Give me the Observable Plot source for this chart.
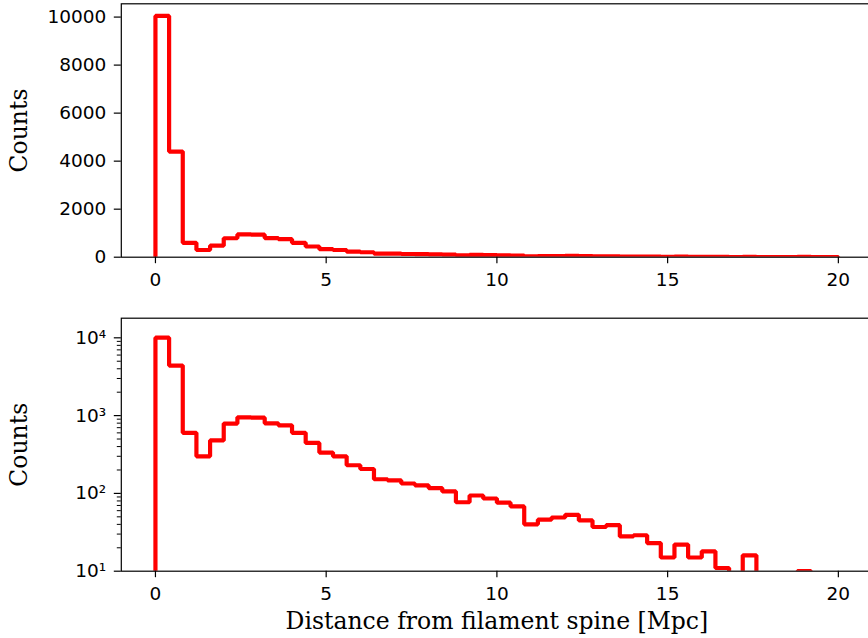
<!DOCTYPE html>
<html><head><meta charset="utf-8">
<script src="https://cdn.jsdelivr.net/npm/d3@7"></script>
<script src="https://cdn.jsdelivr.net/npm/@observablehq/plot@0.6"></script>
<style>
html,body{margin:0;padding:0;background:#fff;overflow:hidden;}
#chart{width:868px;height:638px;overflow:hidden;position:relative;background:#fff;}
#chart svg{display:block;max-width:none !important;}
</style></head><body><div id="chart"></div>
<script>
// Histogram: 50 bins of width 0.4 Mpc from 0 to 20
const binLo = 0, binHi = 20, binCount = 50;
const counts = [
  10050, 4400, 600, 300, 480, 790, 950, 940, 795, 750,
  600, 445, 335, 300, 230, 206, 152, 147, 134, 127,
  117, 106, 77, 94, 86, 76, 68, 40, 46, 49,
  53, 45, 37, 39, 28, 29, 23, 15, 22, 15,
  18, 11, 6, 16, 7, 5, 4, 10, 3, 4
];
const xTicks = [0, 5, 10, 15, 20];
const yTicksLinear = [0, 2000, 4000, 6000, 8000, 10000];
const yTicksLog = [10, 100, 1000, 10000];
const yTickLabelsLog = ["10¹", "10²", "10³", "10⁴"];
const yMinorLog = [20,30,40,50,60,70,80,90,200,300,400,500,600,700,800,900,2000,3000,4000,5000,6000,7000,8000,9000];
const xLabel = "Distance from filament spine [Mpc]";
const yLabel = "Counts";

const edges = d3.range(binCount + 1).map(i => binLo + (binHi - binLo) * i / binCount);
function steps(base) {
  const pts = [{x: edges[0], y: base}];
  counts.forEach((c, i) => pts.push({x: edges[i], y: c}));
  pts.push({x: edges[binCount], y: counts[binCount - 1]});
  pts.push({x: edges[binCount], y: base});
  return pts;
}

const W = 872, ML = 120.8, MR = 0;
const tickFont = "DejaVu Sans, sans-serif";
const labelFont = "DejaVu Serif, serif";
const common = {
  width: W, marginLeft: ML, marginRight: MR,
  style: {fontFamily: tickFont, fontSize: "18.5px", color: "#000", background: "#fff", overflow: "visible", maxWidth: "none"},
  x: {domain: [-1, 21]}
};
const lineOpts = {x: "x", y: "y", curve: "step-after", stroke: "#ff0000", strokeWidth: 4.2, strokeLinejoin: "miter", clip: true};
const yLabelOpts = {text: d => d, frameAnchor: "left", textAnchor: "middle", lineAnchor: "middle", rotate: -90, dx: -101.8, fontFamily: labelFont, fontSize: 23.5, fill: "#000"};

const topPlot = Plot.plot({
  ...common,
  height: 290, marginTop: 3.3, marginBottom: 33.3,
  y: {domain: [0, 10553]},
  marks: [
    Plot.line(steps(0), lineOpts),
    Plot.frame({stroke: "#000", strokeWidth: 1.2}),
    Plot.axisX({ticks: xTicks, tickSize: 6.5, tickPadding: 9, strokeWidth: 1.2, label: null, fontSize: 18.5}),
    Plot.axisY({ticks: yTicksLinear, tickFormat: d3.format("d"), tickSize: 7, tickPadding: 8, strokeWidth: 1.2, label: null, fontSize: 18.5}),
    Plot.text([yLabel], yLabelOpts)
  ]
});

const botPlot = Plot.plot({
  ...common,
  height: 348, marginTop: 27.7, marginBottom: 67.3,
  y: {type: "log", domain: [10, 17870]},
  marks: [
    Plot.line(steps(1), lineOpts),
    Plot.frame({stroke: "#000", strokeWidth: 1.2}),
    Plot.axisX({ticks: xTicks, tickSize: 6.5, tickPadding: 9, strokeWidth: 1.2, label: null, fontSize: 18.5}),
    Plot.axisY({ticks: yMinorLog, tickSize: 4, strokeWidth: 1, text: null, label: null}),
    Plot.axisY({ticks: yTicksLog, tickFormat: d => yTickLabelsLog[yTicksLog.indexOf(d)], tickSize: 7, tickPadding: 8, strokeWidth: 1.2, label: null, fontSize: 18.5}),
    Plot.text([yLabel], yLabelOpts),
    Plot.text([xLabel], {text: d => d, frameAnchor: "bottom", textAnchor: "middle", lineAnchor: "middle", dy: 50.5, fontFamily: labelFont, fontSize: 23.5, fill: "#000"})
  ]
});

const chart = document.getElementById("chart");
chart.appendChild(topPlot);
chart.appendChild(botPlot);
</script>
</body></html>
